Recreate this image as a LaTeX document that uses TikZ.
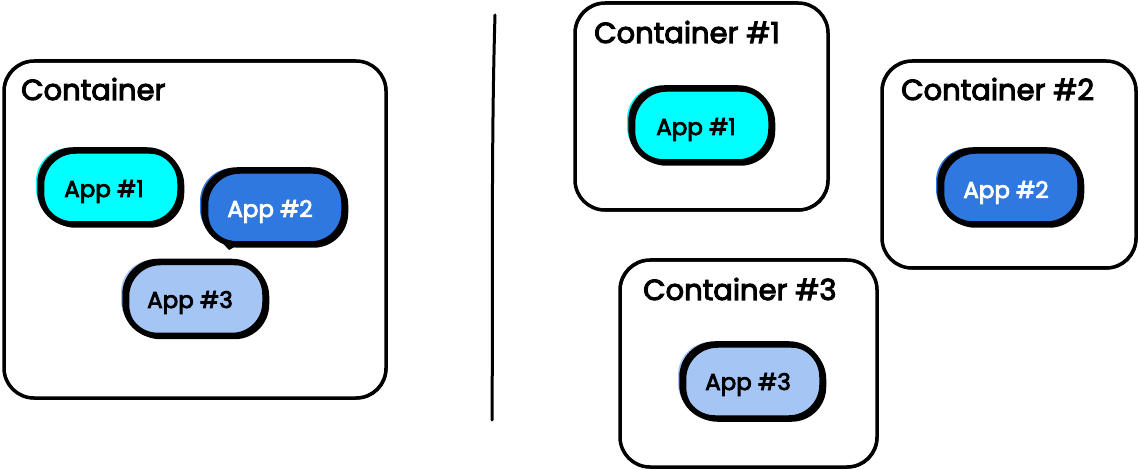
\documentclass[tikz,border=0pt]{standalone}
\usepackage{fontspec}
\setmainfont{Poppins}
\newfontfamily\medfont{Poppins}[UprightFeatures={FakeBold=3.5}]
\definecolor{appcyan}{HTML}{00FFFF}
\definecolor{appblue}{HTML}{2F78E0}
\definecolor{applight}{HTML}{A5C6F5}
\tikzset{
  box/.style={draw=black, line width=3.5pt, rounded corners=30pt, line join=round,
    postaction={draw=black, line width=1.5pt, transform canvas={shift={(0.8pt,-0.8pt)}}}},
  lbl/.style={anchor=base west, inner sep=0pt, font=\medfont\fontsize{29}{34}\selectfont},
  apptext/.style={anchor=base, inner sep=0pt, font=\medfont\fontsize{23}{28}\selectfont},
  pill/.style={draw=black, line width=5.5pt, rounded corners=33pt, minimum width=140pt, minimum height=74pt,
    inner sep=0pt, fill=#1,
    preaction={fill=#1, transform canvas={shift={(-4pt,2pt)}}},
    postaction={draw=black, line width=3.5pt, transform canvas={shift={(2.5pt,-2pt)}}}},
}
\begin{document}
\begin{tikzpicture}[x=1pt,y=-1pt]
\useasboundingbox (0,0) rectangle (1138,470);
% left container
\node[box, minimum width=382pt, minimum height=337pt] (c0) at (195,229.5) {};
\node[lbl] (c0l) at (21,100) {Container};
\node[pill=appcyan] (a1) at (110,187) {};
\node[apptext] (a1t) at (104,197) {App \#1};
\node[pill=appblue] (a2) at (274,207) {};
\coordinate (tail) at (229,250);
\fill[black] (218,238) -- (tail) -- (242,243) -- cycle;
\node[apptext, text=white] (a2t) at (270,217) {App \#2};
\node[pill=applight] (a3) at (195,298.5) {};
\node[apptext] (a3t) at (190,308) {App \#3};
% divider
\coordinate (d1) at (495,15);
\coordinate (d2) at (492,420);
\draw[line width=3pt, line cap=round] (d1) .. controls (491,150) and (493,300) .. (d2);
% container 1
\node[box, minimum width=253pt, minimum height=207pt] (c1) at (701.5,106.5) {};
\node[lbl] (c1l) at (594,43) {Container \#1};
\node[pill=appcyan] (b1) at (701,125) {};
\node[apptext] (b1t) at (696,135) {App \#1};
% container 2
\node[box, minimum width=254pt, minimum height=207pt] (c2) at (1009,164.5) {};
\node[lbl] (c2l) at (901,100) {Container \#2};
\node[pill=appblue] (b2) at (1010,187) {};
\node[apptext, text=white] (b2t) at (1006,198) {App \#2};
% container 3
\node[box, minimum width=257pt, minimum height=207pt] (c3) at (748.5,363.5) {};
\node[lbl] (c3l) at (643,300) {Container \#3};
\node[pill=applight] (b3) at (752,381) {};
\node[apptext] (b3t) at (748,390) {App \#3};
\end{tikzpicture}
\end{document}
